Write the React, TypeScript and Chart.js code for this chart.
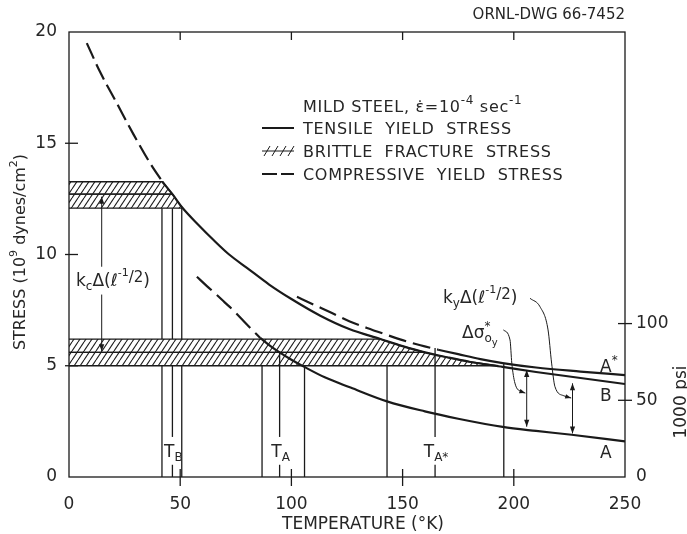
import React, { useEffect, useRef } from "react";
import { Chart, registerables } from "chart.js";
Chart.register(...registerables);

const FONT = '"DejaVu Sans", sans-serif';
const INK = "#1a1a1a";
const TXT = "#262626";

// ---- axes ----
const xTicks = [0, 50, 100, 150, 200, 250];
const yTicks = [0, 5, 10, 15, 20];
const psiTicks = [0, 50, 100];
const psiMax = 20 / 0.06895; // 1000 psi equivalent of 20 x 10^9 dynes/cm^2

// ---- curve B (compressive dashed at low T, then tensile) ----
const bT = [8, 14, 21.5, 29, 36.5, 42, 46.5, 51, 58, 65, 72, 80, 90, 100, 113, 126, 140, 150, 160, 170, 180, 195, 210, 230, 250];
const bS = [19.5, 18.2, 16.8, 15.4, 14.1, 13.27, 12.71, 12.1, 11.35, 10.65, 10.0, 9.4, 8.65, 8.0, 7.25, 6.65, 6.2, 5.88, 5.6, 5.38, 5.18, 4.95, 4.72, 4.45, 4.18];
const bDashEnd = 42;

// ---- curve A* ----
const asT = [102.5, 110, 118, 126, 134, 142, 150, 158, 166, 175, 185, 195, 210, 230, 250];
const asS = [8.1, 7.75, 7.38, 7.0, 6.7, 6.42, 6.15, 5.92, 5.72, 5.52, 5.3, 5.12, 4.92, 4.74, 4.58];
const asDashEnd = 166;

// ---- curve A ----
const aT = [57.5, 62, 66.5, 70, 74, 80, 86, 90, 94.7, 100, 105.6, 115, 126.6, 143, 160, 175, 195, 210, 226, 250];
const aS = [9.0, 8.58, 8.18, 7.85, 7.48, 6.85, 6.25, 5.93, 5.6, 5.27, 4.96, 4.48, 4.02, 3.4, 2.95, 2.62, 2.25, 2.07, 1.9, 1.6];
const aDashEnd = 86;

// ---- brittle fracture stress bands ----
const band1T = [0, 42, 46.5];
const band1Top = [13.27, 13.27, 12.71];
const band1Bot = [12.71, 12.71, 12.71];
const band2T = [0, 46.5, 51];
const band2Top = [12.71, 12.71, 12.08];
const band2Bot = [12.08, 12.08, 12.08];
const band3T = [0, 140, 150, 160];
const band3Top = [6.2, 6.2, 5.88, 5.6];
const band3Bot = [5.6, 5.6, 5.6, 5.6];
const band4T = [0, 160, 170, 180, 193];
const band4Top = [5.6, 5.6, 5.38, 5.18, 5.0];
const band4Bot = [5.0, 5.0, 5.0, 5.0, 5.0];

// ---- temperature marker lines ----
const vT = [41.8, 46.5, 50.7, 86.8, 94.7, 105.9, 143, 164.6, 195.5];
const vTop = [12.08, 12.08, 12.08, 5.0, 5.63, 5.0, 5.0, 5.8, 5.08];
const vLabel = ["", "B", "", "", "A", "", "", "A*", ""];
const bandGap = [5.0, 6.2];
const labelGap = [0.55, 1.8];

// ---- arrows ----
const kcT = 14.7;
const kcTop = 12.6;
const kcBot = 5.65;
const kcGap = [8.2, 9.45];
const arrowT = [205.8, 226.4];
const arrowTop = [4.81, 4.21];
const arrowBot = [2.26, 1.96];
const lead1T = [195.3, 198.3, 199.1, 200.5, 203.5, 205.2];
const lead1S = [6.61, 6.16, 5.12, 4.22, 3.83, 3.77];
const lead2T = [207.3, 211.8, 215.4, 217, 218.5, 222.5, 225.8];
const lead2S = [8.03, 7.65, 6.61, 5.12, 4.06, 3.65, 3.55];

type Part = { t: string; s?: number; dy?: number };

function rich(ctx: CanvasRenderingContext2D, parts: Part[], x: number, y: number, base: number, align: "left" | "right" | "center" = "left") {
  let w = 0;
  for (const p of parts) {
    ctx.font = `${p.s ?? base}px ${FONT}`;
    w += ctx.measureText(p.t).width;
  }
  let cx = align === "left" ? x : align === "right" ? x - w : x - w / 2;
  ctx.textAlign = "left";
  for (const p of parts) {
    ctx.font = `${p.s ?? base}px ${FONT}`;
    ctx.fillText(p.t, cx, y + (p.dy ?? 0));
    cx += ctx.measureText(p.t).width;
  }
  return w;
}

function head(ctx: CanvasRenderingContext2D, x: number, y: number, ang: number, len = 7, hw = 2.6) {
  ctx.beginPath();
  ctx.moveTo(x, y);
  ctx.lineTo(x - len * Math.cos(ang) + hw * Math.sin(ang), y - len * Math.sin(ang) - hw * Math.cos(ang));
  ctx.lineTo(x - len * Math.cos(ang) - hw * Math.sin(ang), y - len * Math.sin(ang) + hw * Math.cos(ang));
  ctx.closePath();
  ctx.fill();
}

const pts = (T: number[], S: number[]) => T.map((t, i) => ({ x: t, y: S[i] }));

function split(T: number[], S: number[], at: number) {
  const d: any[] = [];
  const s: any[] = [];
  T.forEach((t, i) => {
    if (t <= at) d.push({ x: t, y: S[i] });
    if (t >= at) s.push({ x: t, y: S[i] });
  });
  return [d, s];
}

const overlay = {
  id: "overlay",
  afterDraw(chart: any) {
    const { ctx, chartArea: ca } = chart;
    const sx = chart.scales.x, sy = chart.scales.y, s2 = chart.scales.y2;
    const X = (v: number) => sx.getPixelForValue(v);
    const Y = (v: number) => sy.getPixelForValue(v);
    const seg = (x1: number, y1: number, x2: number, y2: number) => {
      ctx.beginPath();
      ctx.moveTo(x1, y1);
      ctx.lineTo(x2, y2);
      ctx.stroke();
    };
    ctx.save();
    ctx.strokeStyle = INK;
    ctx.fillStyle = INK;
    ctx.lineWidth = 1.3;
    ctx.strokeRect(ca.left, ca.top, ca.right - ca.left, ca.bottom - ca.top);
    xTicks.forEach((v) => {
      if (v <= 0 || v >= 250) return;
      const p = X(v);
      seg(p, ca.bottom - 8, p, ca.bottom + 9);
      seg(p, ca.top, p, ca.top + 8);
    });
    yTicks.forEach((v) => {
      if (v <= 0 || v >= 20) return;
      const p = Y(v);
      seg(ca.left - 4, p, ca.left + 9, p);
    });
    psiTicks.forEach((v) => {
      if (v <= 0) return;
      const p = s2.getPixelForValue(v);
      seg(ca.right - 7, p, ca.right + 7, p);
    });

    // kc arrow
    ctx.lineWidth = 1;
    seg(X(kcT), Y(kcTop), X(kcT), Y(kcGap[1]));
    seg(X(kcT), Y(kcGap[0]), X(kcT), Y(kcBot));
    head(ctx, X(kcT), Y(kcTop), -Math.PI / 2);
    head(ctx, X(kcT), Y(kcBot), Math.PI / 2);
    // right double arrows
    arrowT.forEach((t, i) => {
      seg(X(t), Y(arrowTop[i]), X(t), Y(arrowBot[i]));
      head(ctx, X(t), Y(arrowTop[i]), -Math.PI / 2);
      head(ctx, X(t), Y(arrowBot[i]), Math.PI / 2);
    });
    // leader arrowheads
    [[lead1T, lead1S], [lead2T, lead2S]].forEach(([T, S]) => {
      const n = T.length;
      const x1 = X(T[n - 2]), y1 = Y(S[n - 2]), x2 = X(T[n - 1]), y2 = Y(S[n - 1]);
      head(ctx, x2, y2, Math.atan2(y2 - y1, x2 - x1), 6, 2.2);
    });

    // texts
    ctx.fillStyle = TXT;
    ctx.textBaseline = "alphabetic";
    rich(ctx, [{ t: "ORNL-DWG 66-7452" }], ca.right, 19, 15, "right");

    // legend
    const lx = 303;
    (ctx as any).letterSpacing = "0.7px";
    rich(ctx, [{ t: "MILD STEEL, \u03b5\u0307=10" }, { t: "-4", s: 12, dy: -8 }, { t: " sec" }, { t: "-1", s: 12, dy: -8 }], lx, 112, 16);
    rich(ctx, [{ t: "TENSILE  YIELD  STRESS" }], lx, 134, 16);
    rich(ctx, [{ t: "BRITTLE  FRACTURE  STRESS" }], lx, 157, 16);
    rich(ctx, [{ t: "COMPRESSIVE  YIELD  STRESS" }], lx, 180, 16);
    (ctx as any).letterSpacing = "0px";
    ctx.lineWidth = 2;
    seg(262, 128, 294, 128);
    seg(262, 174, 277, 174);
    seg(281, 174, 294, 174);
    ctx.lineWidth = 1;
    seg(262, 151, 294, 151);
    for (let i = 0; i < 4; i++) {
      const bx = 264 + i * 8;
      seg(bx, 156, bx + 6, 146);
    }

    // axis titles
    ctx.save();
    ctx.translate(25, 252);
    ctx.rotate(-Math.PI / 2);
    rich(ctx, [{ t: "STRESS (10" }, { t: "9", s: 11, dy: -8 }, { t: " dynes/cm" }, { t: "2", s: 11, dy: -8 }, { t: ")" }], 0, 0, 16, "center");
    ctx.restore();
    rich(ctx, [{ t: "TEMPERATURE (\u00b0K)" }], 363, 529, 17, "center");
    ctx.save();
    ctx.translate(686, 402);
    ctx.rotate(-Math.PI / 2);
    rich(ctx, [{ t: "1000 psi" }], 0, 0, 17, "center");
    ctx.restore();

    // marker labels
    vT.forEach((t, i) => {
      const l = vLabel[i];
      if (!l) return;
      const parts: Part[] = [{ t: "T" }, { t: l, s: 12, dy: 4 }];
      rich(ctx, parts, X(t) + 1, 457, 17, "center");
    });

    // kc label
    rich(ctx, [{ t: "k" }, { t: "c", s: 12, dy: 4 }, { t: "\u0394(" }, { t: "\u2113" }, { t: "-1", s: 11, dy: -10 }, { t: "/2", s: 15, dy: -4 }, { t: ")" }], 76, 286, 17);
    // ky label
    rich(ctx, [{ t: "k" }, { t: "y", s: 12, dy: 4 }, { t: "\u0394(" }, { t: "\u2113" }, { t: "-1", s: 11, dy: -10 }, { t: "/2", s: 15, dy: -4 }, { t: ")" }], 443, 303, 17);
    // delta sigma label
    const w = rich(ctx, [{ t: "\u0394\u03c3" }], 462, 338, 17);
    rich(ctx, [{ t: "*", s: 12 }], 462 + w, 330, 12);
    const w2 = rich(ctx, [{ t: "o", s: 12 }], 462 + w, 342, 12);
    rich(ctx, [{ t: "y", s: 10 }], 462 + w + w2, 346, 10);

    // curve end labels
    rich(ctx, [{ t: "A" }, { t: "*", s: 12, dy: -8 }], 600, 372, 17);
    rich(ctx, [{ t: "B" }], 600, 401, 17);
    rich(ctx, [{ t: "A" }], 600, 458, 17);
    ctx.restore();
  },
};

function makeHatch() {
  const c = document.createElement("canvas");
  const w = 6, h = 9;
  c.width = w;
  c.height = h;
  const g = c.getContext("2d")!;
  g.strokeStyle = "#1e1e1e";
  g.lineWidth = 1.1;
  for (const off of [-w, 0, w]) {
    g.beginPath();
    g.moveTo(off, h);
    g.lineTo(off + w, 0);
    g.stroke();
  }
  return g.createPattern(c, "repeat")!;
}

export default function App() {
  const ref = useRef<HTMLCanvasElement | null>(null);
  useEffect(() => {
    document.body.style.margin = "0";
    const hatch = makeHatch();
    const curve = (data: any[], dash: number[] | undefined) => ({
      data,
      borderColor: INK,
      borderWidth: 2.2,
      borderDash: dash || [],
      pointRadius: 0,
      fill: false,
      tension: 0.4,
      cubicInterpolationMode: "monotone",
    });
    const thin = (data: any[], wdt = 1.3) => ({
      data,
      borderColor: INK,
      borderWidth: wdt,
      pointRadius: 0,
      fill: false,
      tension: 0,
    });
    const ds: any[] = [];
    const [bD, bSo] = split(bT, bS, bDashEnd);
    const [asD, asSo] = split(asT, asS, asDashEnd);
    const [aD, aSo] = split(aT, aS, aDashEnd);
    ds.push(curve(bD, [17, 6]), curve(bSo, undefined));
    ds.push(curve(asD, [18, 7]), curve(asSo, undefined));
    ds.push(curve(aD, [20, 7]), curve(aSo, undefined));
    const lead = (T: number[], S: number[]) => ({ ...thin(pts(T, S), 1), tension: 0.4, cubicInterpolationMode: "monotone" });
    ds.push(lead(lead1T, lead1S), lead(lead2T, lead2S));
    // vertical marker lines
    vT.forEach((t, i) => {
      let ranges: number[][] = [[0, vTop[i]]];
      if (vTop[i] > bandGap[1]) ranges = [[0, bandGap[0]], [bandGap[1], vTop[i]]];
      if (vLabel[i]) {
        const r0 = ranges[0];
        ranges = [[0, labelGap[0]], [labelGap[1], r0[1]], ...ranges.slice(1)];
      }
      ranges.forEach(([lo, hi]) => ds.push(thin([{ x: t, y: lo }, { x: t, y: hi }])));
    });
    // hatched bands
    const bands = [
      [band1T, band1Top, band1Bot],
      [band2T, band2Top, band2Bot],
      [band3T, band3Top, band3Bot],
      [band4T, band4Top, band4Bot],
    ];
    bands.forEach(([T, top, bot]) => {
      const idx = ds.length;
      ds.push({ ...thin(pts(T, top)), fill: { target: idx + 1 }, backgroundColor: hatch });
      ds.push(thin(pts(T, bot)));
    });

    const tickFont = { family: FONT, size: 17 };
    const chart = new Chart(ref.current!, {
      type: "line",
      data: { datasets: ds },
      plugins: [overlay],
      options: {
        animation: false,
        responsive: false,
        maintainAspectRatio: false,
        layout: { padding: { top: 32, left: 0, right: 0, bottom: 0 } },
        plugins: { legend: { display: false }, tooltip: { enabled: false }, title: { display: false } },
        scales: {
          x: {
            type: "linear",
            min: 0,
            max: 250,
            afterFit: (s: any) => { s.height = 57; },
            grid: { display: false, drawTicks: false },
            border: { display: false },
            ticks: { stepSize: 50, padding: 17, font: tickFont, color: TXT },
            afterBuildTicks: (s: any) => { s.ticks = xTicks.map((v) => ({ value: v })); },
          },
          y: {
            type: "linear",
            position: "left",
            min: 0,
            max: 20,
            afterFit: (s: any) => { s.width = 69; },
            grid: { display: false, drawTicks: false },
            border: { display: false },
            ticks: { padding: 12, font: tickFont, color: TXT },
            afterBuildTicks: (s: any) => { s.ticks = yTicks.map((v) => ({ value: v })); },
          },
          y2: {
            type: "linear",
            position: "right",
            min: 0,
            max: psiMax,
            afterFit: (s: any) => { s.width = 62; },
            grid: { display: false, drawTicks: false },
            border: { display: false },
            ticks: { padding: 11, font: tickFont, color: TXT },
            afterBuildTicks: (s: any) => { s.ticks = psiTicks.map((v) => ({ value: v })); },
          },
        },
      } as any,
    });
    return () => chart.destroy();
  }, []);
  return (
    <div style={{ width: 687, height: 534, background: "#fff" }}>
      <canvas ref={ref} width={687} height={534} style={{ display: "block" }} />
    </div>
  );
}
